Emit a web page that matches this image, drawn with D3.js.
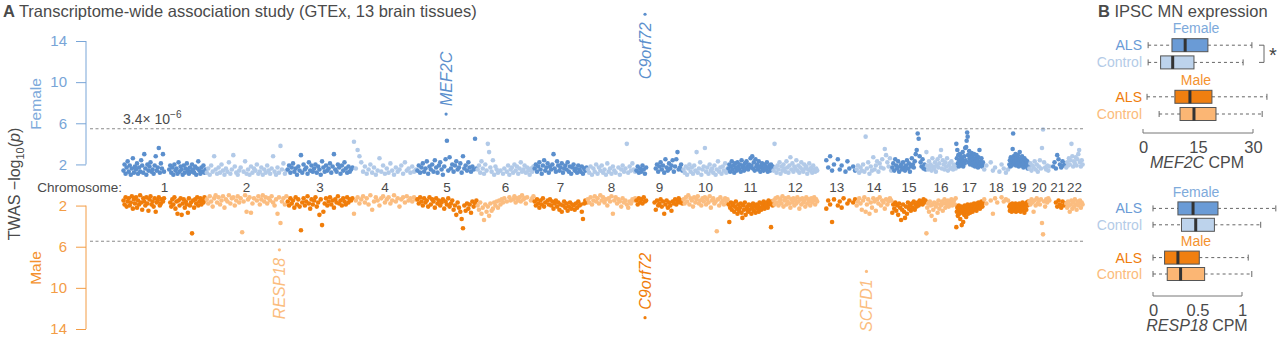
<!DOCTYPE html>
<html>
<head>
<meta charset="utf-8">
<script src="https://cdn.jsdelivr.net/npm/d3@7"></script>
<style>
  body { margin: 0; background: #fff; }
  svg { display: block; font-family: "Liberation Sans", Arial, Helvetica, sans-serif; }
</style>
</head>
<body>
<script>
// ---- data ----
const chromosomes = ["1","2","3","4","5","6","7","8","9","10","11","12","13","14","15","16","17","18","19","20","21","22"];
// chromosome lengths, Mb (hg19)
const chrLengths = [249.25, 243.20, 198.02, 191.15, 180.92, 171.12, 159.14, 146.36, 141.21, 135.53, 135.01,
                    133.85, 115.17, 107.35, 102.53, 90.35, 81.20, 78.08, 59.13, 63.03, 48.13, 51.30];

// -log10(p) per gene, in gene order along each chromosome (null = no gene shown there)
const femaleValues = [
  [1.4,2.0,1.1,1.7,2.3,1.3,1.9,1.0,1.6,2.6,1.2,1.8,1.5,2.1,1.1,1.7,1.3,2.4,1.9,1.2,3.0,1.6,1.0,2.0,1.4,1.8,2.2,1.3,1.5,1.1,1.9,2.8,1.4,1.7,3.6,1.2,2.1,1.6,3.0,1.3,null,null,null,null,1.5,1.9,1.2,1.7,1.0,2.0,1.4,1.6,1.1,2.2,1.3,1.8,1.5,1.0,1.9,1.2,1.6,2.1,1.4,1.1,1.7,1.3,2.0,1.5,1.2,1.8,1.0,1.6,2.3,1.4,1.1,1.7,1.3,1.9,1.2,1.5],
  [1.2,1.6,1.0,1.9,1.3,2.8,1.5,1.1,1.7,1.2,2.0,1.4,1.0,1.6,1.3,2.2,1.1,1.5,2.9,1.8,1.2,1.0,1.4,1.7,null,1.3,2.3,1.1,1.5,1.0,1.8,1.2,1.6,1.4,2.0,1.1,1.3,1.7,1.0,1.5,1.2,1.9,1.4,1.1,1.6,2.8,1.3,1.0,1.7,1.2,3.8,1.5,2.1,1.1,1.4],
  [1.5,1.9,1.2,1.7,2.1,1.3,1.6,1.0,1.8,1.4,2.9,1.2,2.0,1.5,1.7,1.1,2.2,1.4,1.9,1.3,1.6,2.0,1.2,1.8,1.5,1.0,2.3,1.7,1.3,1.9,1.4,1.6,2.1,1.2,1.8,3.0,1.5,1.3,2.0,1.7,1.1,1.9,1.4,2.2,1.6,1.2,1.8,1.3,1.5,1.7],
  [4.2,1.6,3.4,2.8,2.2,1.3,1.8,1.1,1.5,2.0,1.2,1.7,1.0,1.4,2.6,1.3,1.9,1.1,1.6,1.2,2.1,1.4,1.0,1.7,1.3,1.5,1.9,1.1,2.2,1.4,1.6,1.2,1.8,1.3,1.5],
  [1.4,1.9,1.2,1.7,2.1,1.3,1.6,2.3,1.1,1.8,1.5,2.0,1.3,2.4,1.7,1.2,1.9,2.2,1.5,1.0,1.8,2.5,4.3,1.4,2.7,1.6,2.0,1.3,1.9,2.3,1.5,1.7,2.1,1.2,2.8,1.6,1.9,1.4,2.2,1.7,1.3,1.8,1.5,4.5,1.6],
  [1.5,1.9,1.2,2.3,1.6,1.1,2.0,1.4,4.0,3.2,1.7,1.3,2.4,1.0,1.8,1.5,1.2,null,1.4,null,1.1,1.6,null,1.3,1.9,1.0,1.5,1.7,1.2,2.0,1.4,1.8,1.1,1.6,2.2,1.3,1.5,1.9,1.2,1.7,1.4,1.0,1.6,1.3,1.8],
  [1.6,2.0,1.3,1.8,2.2,1.5,1.1,1.9,2.4,1.4,1.7,2.1,1.2,1.8,1.5,2.0,3.0,1.6,1.3,2.3,1.9,1.4,1.7,2.1,1.2,1.6,1.9,1.5,2.2,1.3,1.8,1.1,1.7,2.0,1.4,1.6,1.2,1.9,1.5,1.3,1.8,1.1,1.6,1.4,1.7],
  [1.5,1.2,1.8,1.0,1.6,1.3,2.0,1.1,1.7,1.4,1.9,1.2,1.5,1.0,2.1,1.3,1.6,1.1,1.8,1.4,1.2,null,1.7,1.0,1.5,1.9,1.3,1.6,4.0,1.2,1.8,1.4,2.1,1.5,1.3],
  [1.4,1.8,1.2,1.6,1.3,1.9,1.5,1.1,1.7,null,null,null,null,null,null,null,1.6,2.0,1.3,1.8,2.2,1.5,1.9,1.2,2.5,1.7,1.4,2.1,1.6,1.9,2.4,1.3,1.8,2.5,3.2,1.5,1.7,2.0,1.4],
  [1.5,1.2,1.8,1.0,1.6,2.0,1.3,1.7,1.1,1.9,1.4,3.2,1.2,1.6,2.2,1.0,1.5,1.8,3.6,1.3,1.7,1.1,2.0,1.4,1.6,1.2,1.9,1.0,1.5,2.3,1.3,1.7,1.1,1.8,1.4,2.1,1.2,1.6],
  [1.6,2.0,1.3,1.8,2.3,1.5,1.9,1.2,2.1,1.7,1.4,2.2,1.8,1.5,2.0,1.3,2.4,1.7,1.9,1.4,2.1,1.6,2.3,1.8,1.5,2.0,1.7,2.6,1.9,2.8,1.6,2.2,1.4,2.5,1.8,2.0,1.5,2.3,1.7,1.3,1.9,2.1,1.6,1.4,2.0,1.8,1.5,2.2,1.3,1.7,1.9,1.4,2.0,1.6,1.8],
  [1.4,4.0,1.7,1.2,1.9,1.5,2.2,1.1,1.8,1.4,2.0,1.6,1.3,2.3,1.7,1.2,1.9,2.7,1.5,2.1,1.3,1.8,1.6,2.4,1.4,1.9,1.2,1.7,2.2,1.5,1.3,2.0,1.6,1.8,1.1,1.5,2.1,1.4,1.7,1.2,1.9,1.5,1.3,1.6,1.4],
  [null,null,null,null,2.4,1.7,2.8,1.4,2.0,null,2.5,1.5,1.9,null,1.3,2.3,1.6,null,1.8,1.4],
  [1.5,1.9,1.2,1.7,1.4,2.0,1.3,4.7,1.6,2.2,1.1,1.8,1.4,2.7,1.5,1.9,2.3,1.3,2.1,1.7,2.5,1.6,3.5,2.9,2.2,1.8,2.6,1.4],
  [1.7,2.1,1.4,2.5,1.9,1.6,2.3,1.3,1.8,2.0,1.5,2.2,1.7,1.4,1.9,2.4,1.6,2.1,1.3,1.8,2.6,2.0,1.7,2.3,3.0,3.4,5.0,4.5,2.8,2.2,1.8,2.5,1.6,2.0,1.5],
  [3.2,1.9,1.5,2.3,1.7,2.0,1.4,2.6,1.8,1.6,2.2,1.3,1.9,2.5,1.7,2.1,2.8,3.4,1.6,2.4,2.0,1.5,2.2,1.8,2.6,1.4,1.9,2.1,1.6,2.3,1.7,1.5,2.0,1.8,1.6],
  [4.0,2.6,3.4,2.1,2.9,1.8,2.4,3.0,2.2,1.9,2.7,2.0,2.5,3.2,1.8,2.3,2.8,2.1,3.6,2.4,3.7,4.3,5.1,4.7,2.9,2.2,3.3,2.6,2.0,2.8,2.4,3.1,2.1,2.7,1.9,2.5,3.0,2.2,1.8,2.6,2.3,2.9,2.0,2.4,1.7,2.7,2.2,3.4,1.9,2.3,2.1,2.6,1.8,2.0,2.2],
  [1.5,1.9,null,2.2,1.4,1.7,null,1.3,2.0,1.6,1.2,1.5],
  [2.0,2.4,1.8,2.7,2.2,1.9,2.5,3.5,5.0,2.8,2.1,2.6,2.3,3.0,1.9,2.4,2.7,2.0,2.9,2.2,1.8,2.5,3.2,2.1,2.6,1.9,2.3,2.8,2.0,2.4,1.7,2.2,2.6,1.9,2.1,2.4,1.8,2.0,2.3,1.6,2.1,1.9],
  [1.6,2.1,1.4,1.9,1.7,2.3,1.5,2.0,1.3,1.8,2.4,1.6,3.6,5.4,2.2,1.7,1.5,1.9,1.4,1.8],
  [null,null,1.8,2.2,1.6,2.9,2.5,2.0,1.7,2.3,1.9,2.1],
  [1.7,2.2,1.9,2.6,2.0,2.4,4.0,2.8,1.8,2.3,2.1,2.7,1.9,2.5,3.0,3.4,2.2,1.8,2.4,2.0]
];

const maleValues = [
  [1.5,1.9,1.2,2.1,1.6,1.3,2.0,1.7,1.1,2.3,1.4,1.8,1.2,2.2,1.5,1.9,1.0,1.7,2.4,1.3,1.6,2.0,1.2,1.8,2.5,1.4,1.1,1.9,1.6,2.1,1.3,2.6,1.7,1.5,1.2,2.0,1.8,1.4,1.6,1.3,null,null,null,null,null,1.7,2.1,1.4,1.9,1.2,2.3,1.6,2.8,1.5,2.0,1.3,2.9,1.8,1.4,2.2,1.6,1.9,2.7,1.3,2.0,1.7,4.7,1.5,2.2,1.4,1.8,1.2,2.0,1.6,1.3,1.9,1.5,1.7,1.2,1.4],
  [1.4,1.8,1.1,1.6,2.1,1.3,1.0,1.7,1.2,1.9,1.5,1.1,2.2,1.4,1.6,1.0,1.8,1.3,1.2,2.0,1.5,1.1,1.7,1.3,4.6,1.6,1.0,2.6,1.4,1.2,2.7,1.8,1.3,null,1.5,1.1,1.9,1.4,1.0,1.6,1.2,1.8,1.3,1.5,1.1,1.7,2.0,1.4,2.8,1.2,3.7,1.6,1.3,1.9,1.1],
  [1.6,2.0,1.3,1.8,1.5,2.2,1.2,1.9,1.4,2.1,4.4,1.7,1.3,2.0,1.6,1.1,1.8,2.3,1.4,1.9,1.5,1.2,2.1,1.7,2.9,1.4,3.9,2.6,1.8,1.3,2.0,1.6,1.2,1.9,1.5,2.2,1.4,1.7,1.1,1.8,1.5,2.0,1.3,1.6,1.9,1.2,1.7,1.4,1.5,1.3],
  [2.8,1.5,1.2,1.8,1.4,1.1,1.7,1.3,1.9,1.0,2.4,1.6,1.2,1.5,2.0,1.3,1.1,1.7,1.4,1.2,1.8,1.5,1.0,1.6,1.3,2.1,1.4,1.2,1.7,1.1,1.5,1.3,1.6,1.2,1.4],
  [1.4,1.8,1.2,1.6,2.0,1.3,1.7,1.5,2.1,1.2,1.9,1.4,1.6,2.2,1.3,1.8,1.5,2.0,1.7,1.4,2.3,1.6,1.9,1.3,2.1,1.8,1.5,2.4,2.0,2.9,1.7,2.2,2.6,3.3,4.2,2.0,2.5,1.8,2.3,1.9,2.7,1.6,2.1,1.8,1.5],
  [2.0,2.4,1.7,2.8,2.2,3.4,1.9,2.6,2.1,3.0,1.8,2.5,2.3,1.7,2.0,1.6,2.2,1.5,1.9,1.4,1.7,1.3,null,1.6,null,1.2,1.5,null,1.4,1.1,1.7,1.3,1.5,1.2,1.6,1.0,1.4,1.3,1.8,1.2,null,null,1.5,1.3,1.1],
  [1.6,2.0,1.4,1.8,2.2,1.5,1.9,1.3,2.1,1.7,null,1.5,1.9,1.4,2.0,1.6,2.3,1.8,1.5,2.1,1.7,2.4,1.9,2.6,2.0,1.6,2.2,1.8,2.5,2.1,1.7,2.3,1.9,2.0,2.4,1.8,2.2,1.6,2.0,1.9,2.6,3.3,1.8,1.5,1.7],
  [1.4,1.7,1.2,1.9,1.5,1.1,1.6,1.3,1.8,1.0,1.5,1.2,1.7,1.4,2.0,1.3,1.6,1.1,2.8,1.5,1.2,1.8,1.4,1.6,2.1,1.3,1.7,1.5,1.9,2.2,1.6,1.8,1.4,1.5,1.3],
  [1.5,1.9,1.3,1.7,1.4,1.8,1.2,1.6,1.5,null,null,null,null,null,null,1.7,2.4,1.5,2.0,1.8,1.4,2.1,1.6,2.8,1.9,1.5,2.2,1.7,2.0,2.5,1.6,1.8,1.4,1.9,1.6,1.3,1.7,1.5,1.8],
  [1.4,1.8,1.2,1.6,1.0,1.9,1.3,1.5,2.1,1.2,1.7,1.4,1.1,1.8,1.5,2.0,1.3,1.6,1.2,1.9,1.4,1.7,1.1,2.2,1.5,1.3,1.8,1.6,4.5,1.4,2.0,1.2,1.7,1.5,1.9,1.3,1.6,1.4],
  [1.9,3.6,2.2,1.7,2.4,2.0,1.8,2.6,2.1,1.6,2.3,2.8,1.9,2.5,2.2,1.8,2.7,3.2,2.0,2.4,1.7,2.9,2.3,2.1,2.6,1.9,2.4,2.0,2.8,2.2,1.8,2.5,2.1,2.7,1.9,2.3,2.0,2.6,1.7,2.2,2.4,1.8,2.1,1.6,2.3,1.9,2.0,1.7,2.2,1.5,1.9,1.8,4.1,1.6,2.0],
  [1.5,1.9,1.3,1.7,1.2,2.0,1.6,1.4,1.8,1.1,2.1,1.5,1.3,1.9,1.6,1.2,1.8,2.2,1.4,1.7,1.3,2.0,1.5,1.8,1.2,1.6,2.3,1.4,1.9,1.3,1.7,1.5,2.1,1.2,1.8,1.4,1.6,2.0,1.3,1.7,1.5,1.2,1.9,1.4,1.6],
  [null,null,null,null,2.3,1.5,1.9,3.6,1.4,null,2.0,1.6,2.2,1.3,null,1.8,1.5,null,1.7,1.4],
  [2.0,1.6,1.3,1.8,2.4,1.5,1.2,2.6,1.9,1.4,2.8,1.7,2.2,1.3,1.6,2.5,1.4,1.8,1.2,2.0,1.5,1.7,2.3,1.4,1.9,1.6,1.3,1.5],
  [2.7,1.9,2.3,1.7,2.5,2.0,2.9,1.8,2.2,3.4,2.4,1.9,2.6,3.2,2.1,2.8,1.7,2.3,2.0,2.5,1.8,2.2,1.6,2.4,1.9,2.1,1.7,2.0,1.5,1.8,1.6,1.9,1.4,1.7,1.5],
  [4.7,2.2,1.8,2.6,1.6,2.0,3.0,1.9,2.4,1.7,3.4,2.1,1.8,2.7,1.5,2.3,1.9,2.0,1.6,2.5,1.8,1.4,2.2,1.7,1.9,1.5,2.1,1.6,1.8,1.4,2.0,1.7,1.5,1.9,1.3],
  [4.1,2.6,2.2,3.0,2.4,2.0,2.8,2.3,3.3,2.5,2.1,3.9,2.7,2.2,3.6,2.4,2.9,2.0,2.6,2.3,3.1,2.1,2.5,1.9,2.8,2.2,2.4,2.0,2.7,2.3,1.9,2.5,2.1,2.6,2.0,2.4,1.8,2.2,2.3,1.9,2.1,2.5,1.8,2.0,2.2,1.7,2.1,1.9,2.3,1.8,2.0,1.6,1.9,2.1,1.7],
  [1.4,1.8,null,1.5,2.8,1.3,1.7,null,1.2,1.6,1.4,1.5],
  [2.1,2.5,1.9,2.3,2.0,2.6,1.8,2.4,2.2,1.9,2.5,2.1,2.3,1.8,2.6,2.0,2.4,1.9,2.2,2.5,2.1,1.8,2.3,2.0,2.6,1.9,2.2,2.4,1.7,2.1,2.3,1.9,2.7,2.0,2.2,1.8,2.4,1.7,2.0,1.8,1.6,1.9],
  [1.6,1.9,1.4,1.7,2.6,1.5,2.0,1.3,1.8,1.5,1.9,1.4,3.7,4.8,1.6,2.1,1.4,1.7,1.3,1.5],
  [null,null,null,null,1.7,2.1,1.5,1.9,2.2,1.6,2.0,1.8],
  [1.8,2.2,1.6,2.0,2.6,1.9,1.5,2.3,1.7,2.1,1.4,1.9,2.4,1.6,2.0,1.8,1.5,2.2,1.7,1.9]
];

// named top genes: chromosome, position (Mb), -log10(p)
const topGenes  = ["MEF2C", "C9orf72", "RESP18", "C9orf72", "SCFD1"];
const topSex    = ["Female", "Female", "Male", "Male", "Male"];
const topChr    = [5, 9, 2, 9, 14];
const topPos    = [88.0, 27.5, 220.2, 27.5, 31.2];
const topValues = [6.9, 16.6, 6.3, 12.9, 8.4];

const threshold = 3.4e-6;
const yTicks = [2, 6, 10, 14];

// panel B: iPSC motor neuron expression, [min, q1, median, q3, max]
const boxGroups = ["ALS", "Control", "ALS", "Control"];
const boxSexes  = ["Female", "Female", "Male", "Male"];
const mef2cStats  = [[1.4, 7.9, 11.5, 17.7, 29.7], [1.4, 4.8, 8.1, 13.9, 27.3], [1.1, 8.7, 12.8, 18.8, 33.8], [4.4, 10.1, 13.9, 19.9, 32.5]];
const resp18Stats = [[0.0, 0.28, 0.45, 0.73, 1.38], [0.0, 0.32, 0.48, 0.69, 1.21], [0.0, 0.13, 0.28, 0.52, 1.07], [0.0, 0.16, 0.31, 0.58, 1.11]];
const mef2cTicks = [0, 15, 30];
const resp18Ticks = [0, 0.5, 1];

// ---- style ----
const width = 1280, height = 339;
const col = {
  fDark: "#5b8fcd", fLight: "#b2cae8", mDark: "#f07d0a", mLight: "#fbbd80",
  fAxis: "#78a5d7", mAxis: "#f39c45", text: "#4a4a4a", grid: "#8a8a8a"
};
const boxFill = { "Female ALS": "#6a9bd6", "Female Control": "#bdd3ec", "Male ALS": "#f07f10", "Male Control": "#fbb674" };
const labelCol = { "Female ALS": "#6a9bd6", "Female Control": "#b4cbe7", "Male ALS": "#ef7d0c", "Male Control": "#fbbb7a",
                   "Female": "#7eaadb", "Male": "#f4922e" };

const svg = d3.select("body").append("svg")
  .attr("width", width).attr("height", height);

// ================= Panel A =================
const chrStart = [0];
chrLengths.forEach((l, i) => chrStart.push(chrStart[i] + l));
const genomeLen = chrStart[chrStart.length - 1];

const x = d3.scaleLinear().domain([0, genomeLen]).range([123, 1083]);
const yF = d3.scaleLinear().domain([0, 14]).range([185, 41]);
const yM = d3.scaleLinear().domain([0, 14]).range([185, 329]);

svg.append("text")
  .attr("x", 3).attr("y", 17)
  .attr("font-size", 16.5).attr("fill", col.text)
  .call(t => {
    t.append("tspan").attr("font-weight", "bold").text("A ");
    t.append("tspan").text("Transcriptome-wide association study (GTEx, 13 brain tissues)");
  });

// points
function toPoints(byChr, sex) {
  const pts = [];
  byChr.forEach((vals, c) => {
    vals.forEach((v, i) => {
      if (v == null) return;
      pts.push({ sex, chr: c + 1, v, pos: chrStart[c] + (i + 0.5) / vals.length * chrLengths[c] });
    });
  });
  return pts;
}
function pointColor(sex, chr) {
  const odd = chr % 2 === 1;
  if (sex === "Female") return odd ? col.fDark : col.fLight;
  return odd ? col.mDark : col.mLight;
}

const allPoints = toPoints(femaleValues, "Female").concat(toPoints(maleValues, "Male"));
const tops = topGenes.map((g, i) => ({
  gene: g, sex: topSex[i], chr: topChr[i], v: topValues[i],
  pos: chrStart[topChr[i] - 1] + topPos[i]
}));

svg.append("g").selectAll("circle")
  .data(allPoints.concat(tops))
  .join("circle")
  .attr("cx", d => x(d.pos))
  .attr("cy", d => d.sex === "Female" ? yF(d.v) : yM(d.v))
  .attr("r", d => d.gene ? 1.6 : 2.3)
  .attr("fill", d => pointColor(d.sex, d.chr));

// gene labels (rotated)
const labelBelow = new Set(["C9orf72 Female", "RESP18 Male", "SCFD1 Male"]);
svg.append("g").selectAll("text")
  .data(tops)
  .join("text")
  .attr("transform", d => {
    const cy = d.sex === "Female" ? yF(d.v) : yM(d.v);
    const below = labelBelow.has(d.gene + " " + d.sex);
    return `translate(${x(d.pos)},${below ? cy + 8 : cy - 8}) rotate(-90)`;
  })
  .attr("text-anchor", d => labelBelow.has(d.gene + " " + d.sex) ? "end" : "start")
  .attr("dy", "0.35em")
  .attr("font-size", 16).attr("font-style", "italic")
  .attr("fill", d => pointColor(d.sex, d.chr))
  .text(d => d.gene);

// threshold lines
const thr = -Math.log10(threshold);
[yF(thr), yM(thr)].forEach(yy => {
  svg.append("line")
    .attr("x1", 90).attr("x2", 1083).attr("y1", yy).attr("y2", yy)
    .attr("stroke", col.grid).attr("stroke-width", 1).attr("stroke-dasharray", "3,2.5");
});
svg.append("text")
  .attr("x", 123).attr("y", 124)
  .attr("font-size", 14).attr("fill", col.text)
  .call(t => {
    t.append("tspan").text("3.4\u00d7 10");
    t.append("tspan").attr("dy", -6).attr("font-size", 10).text("\u22126");
  });

// y axes
function drawYAxis(scale, color) {
  const g = svg.append("g").attr("transform", "translate(86,0)");
  g.call(d3.axisLeft(scale).tickValues(yTicks).tickSize(10).tickPadding(9));
  g.select(".domain").remove();
  g.append("line")
    .attr("y1", scale(yTicks[0])).attr("y2", scale(yTicks[yTicks.length - 1]))
    .attr("stroke", color);
  g.selectAll(".tick line").attr("stroke", color);
  g.selectAll(".tick text")
    .attr("fill", color).attr("font-size", 15)
    .attr("font-family", null);
}
drawYAxis(yF, col.fAxis);
drawYAxis(yM, col.mAxis);

svg.append("text")
  .attr("transform", "translate(36,104) rotate(-90)")
  .attr("text-anchor", "middle").attr("dy", "0.35em")
  .attr("font-size", 15.5).attr("fill", labelCol.Female)
  .text("Female");
svg.append("text")
  .attr("transform", "translate(36,268) rotate(-90)")
  .attr("text-anchor", "middle").attr("dy", "0.35em")
  .attr("font-size", 15.5).attr("fill", labelCol.Male)
  .text("Male");
svg.append("text")
  .attr("transform", "translate(14,184) rotate(-90)")
  .attr("text-anchor", "middle").attr("dy", "0.35em")
  .attr("font-size", 16).attr("fill", col.text)
  .call(t => {
    t.append("tspan").text("TWAS \u2212log");
    t.append("tspan").attr("font-size", 11).attr("dy", 4).text("10");
    t.append("tspan").attr("dy", -4).text("(");
    t.append("tspan").attr("font-style", "italic").text("p");
    t.append("tspan").text(")");
  });

// chromosome labels
svg.append("text")
  .attr("x", 122).attr("y", 187).attr("dy", "0.35em")
  .attr("text-anchor", "end").attr("font-size", 13.5).attr("fill", col.text)
  .text("Chromosome:");
svg.append("g").selectAll("text")
  .data(chromosomes)
  .join("text")
  .attr("x", (d, i) => x(chrStart[i] + chrLengths[i] / 2))
  .attr("y", 187).attr("dy", "0.35em")
  .attr("text-anchor", "middle").attr("font-size", 13.5).attr("fill", col.text)
  .text(d => d);

// ================= Panel B =================
svg.append("text")
  .attr("x", 1098).attr("y", 17)
  .attr("font-size", 16.5).attr("fill", col.text)
  .call(t => {
    t.append("tspan").attr("font-weight", "bold").text("B ");
    t.append("tspan").text("IPSC MN expression");
  });

function boxPanel(stats, ticks, xRange, rowRange, axisY, gene) {
  const bx = d3.scaleLinear().domain([ticks[0], ticks[ticks.length - 1]]).range(xRange);
  const rows = ["Female", "Female ALS", "Female Control", "Male", "Male ALS", "Male Control"];
  const by = d3.scalePoint().domain(rows).range(rowRange);
  const g = svg.append("g");
  const boxH = 13;

  // row labels
  ["Female", "Male"].forEach(s => {
    g.append("text")
      .attr("x", 1196).attr("y", by(s)).attr("dy", "0.35em")
      .attr("text-anchor", "middle").attr("font-size", 14).attr("fill", labelCol[s])
      .text(s);
  });
  const data = stats.map((s, i) => ({ key: boxSexes[i] + " " + boxGroups[i], group: boxGroups[i], s }));
  g.selectAll(".lab").data(data).join("text")
    .attr("x", 1142).attr("y", d => by(d.key)).attr("dy", "0.35em")
    .attr("text-anchor", "end").attr("font-size", 14).attr("fill", d => labelCol[d.key])
    .text(d => d.group);

  const b = g.selectAll(".box").data(data).join("g")
    .attr("transform", d => `translate(0,${by(d.key)})`);
  // whiskers
  b.append("line").attr("x1", d => bx(d.s[0])).attr("x2", d => bx(d.s[1]))
    .attr("stroke", "#666").attr("stroke-dasharray", "3,3");
  b.append("line").attr("x1", d => bx(d.s[3])).attr("x2", d => bx(d.s[4]))
    .attr("stroke", "#666").attr("stroke-dasharray", "3,3");
  [0, 4].forEach(k => {
    b.append("line").attr("x1", d => bx(d.s[k])).attr("x2", d => bx(d.s[k]))
      .attr("y1", -3).attr("y2", 3).attr("stroke", "#666");
  });
  b.append("rect")
    .attr("x", d => bx(d.s[1])).attr("width", d => bx(d.s[3]) - bx(d.s[1]))
    .attr("y", -boxH / 2).attr("height", boxH)
    .attr("fill", d => boxFill[d.key]).attr("stroke", "#555").attr("stroke-width", 1);
  b.append("line").attr("x1", d => bx(d.s[2])).attr("x2", d => bx(d.s[2]))
    .attr("y1", -boxH / 2).attr("y2", boxH / 2)
    .attr("stroke", "#333").attr("stroke-width", 3);

  const ax = g.append("g").attr("transform", `translate(0,${axisY})`)
    .call(d3.axisBottom(bx).tickValues(ticks).tickSize(4).tickPadding(4).tickFormat(d3.format("")));
  ax.select(".domain").attr("stroke", "#777").attr("d", `M${xRange[0]},-4V0H${xRange[1]}V-4`);
  ax.selectAll(".tick line").remove();
  ax.selectAll(".tick text").attr("font-size", 16.5).attr("fill", col.text).attr("font-family", null);

  g.append("text")
    .attr("x", 1197).attr("y", axisY + 35)
    .attr("text-anchor", "middle").attr("font-size", 16).attr("fill", col.text)
    .call(t => {
      t.append("tspan").attr("font-style", "italic").text(gene);
      t.append("tspan").text(" CPM");
    });
  return by;
}

const byTop = boxPanel(mef2cStats, mef2cTicks, [1143, 1253], [28, 114], 133, "MEF2C");
boxPanel(resp18Stats, resp18Ticks, [1153, 1242], [192, 274], 296, "RESP18");

// significance bracket
const b1 = byTop("Female ALS"), b2 = byTop("Female Control");
svg.append("path")
  .attr("d", `M1259,${b1}H1264V${b2}H1259`)
  .attr("fill", "none").attr("stroke", "#666");
svg.append("text")
  .attr("x", 1273).attr("y", (b1 + b2) / 2 + 8)
  .attr("text-anchor", "middle").attr("font-size", 20).attr("fill", "#444")
  .text("*");
</script>
</body>
</html>
